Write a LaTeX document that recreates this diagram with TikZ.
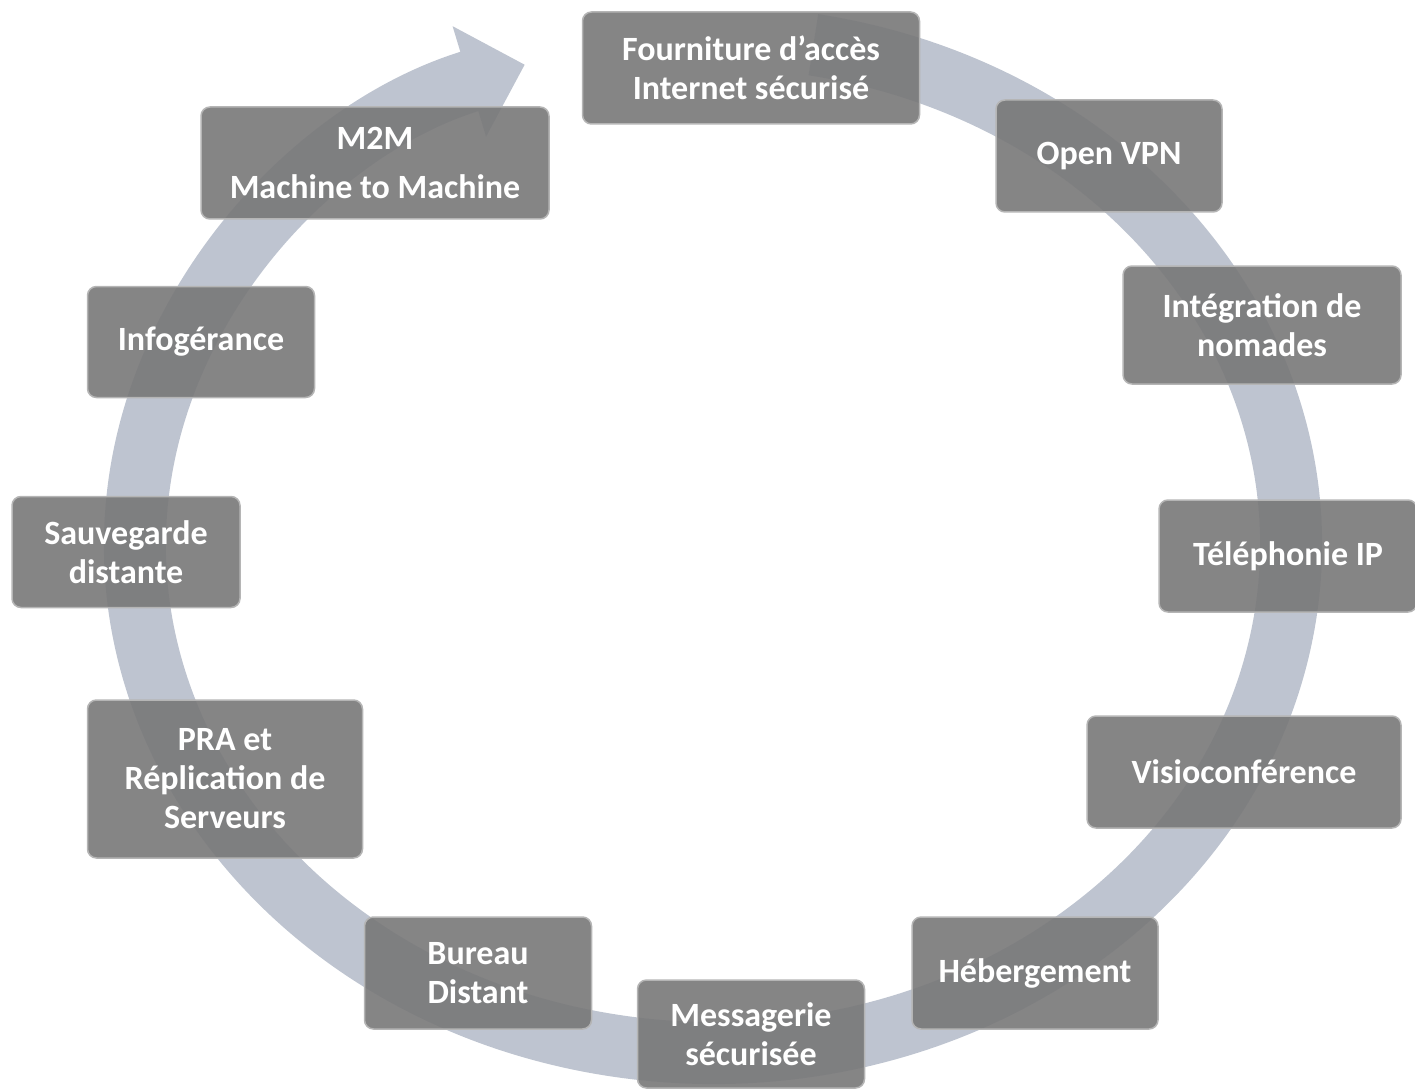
\documentclass[tikz,border=0pt]{standalone}
\usepackage{fontspec}
\setmainfont{Carlito}
\usetikzlibrary{arrows.meta}
\definecolor{bandgray}{RGB}{190,196,208}
\definecolor{boxgray}{RGB}{120,120,120}
\begin{document}
\begin{tikzpicture}[x=1pt, y=1pt,
    service/.style={draw=boxgray!55!white, line width=1.5pt, fill=boxgray, fill opacity=0.9,
        text opacity=1, text=white, rounded corners=9pt, align=center, inner sep=4pt,
        minimum height=112pt, font=\bfseries\fontsize{34}{39}\selectfont}]
    \useasboundingbox (0,-1091) rectangle (1415,0);

    % Circular arrow
    \coordinate (centre) at (713,-545);
    \draw[bandgray, line width=62pt, -{Triangle[length=58pt, width=112pt]}]
        (centre) ++(80:578 and 508) arc[start angle=80, end angle=-251, x radius=578, y radius=508];

    % Services, clockwise from the top
    \node[service, minimum width=337pt] (access) at (751,-68) {Fourniture d’accès\\Internet sécurisé};
    \node[service, minimum width=226pt] (vpn) at (1109,-156) {Open VPN};
    \node[service, minimum width=278pt, minimum height=118pt] (nomad) at (1262,-325) {Intégration de\\nomades};
    \node[service, minimum width=258pt] (ip) at (1288,-556) {Téléphonie IP};
    \node[service, minimum width=314pt] (visio) at (1244,-772) {Visioconférence};
    \node[service, minimum width=246pt] (host) at (1035,-973) {Hébergement};
    \node[service, minimum width=227pt, minimum height=108pt] (mail) at (751,-1034) {Messagerie\\sécurisée};
    \node[service, minimum width=227pt] (desk) at (478,-973) {Bureau\\Distant};
    \node[service, minimum width=275pt, minimum height=158pt] (pra) at (225,-779) {PRA et\\Réplication de\\Serveurs};
    \node[service, minimum width=228pt, minimum height=111pt] (backup) at (126,-552) {Sauvegarde\\distante};
    \node[service, minimum width=227pt, minimum height=111pt] (infog) at (201,-342) {Infogérance};
    \node[service, minimum width=348pt] (m2m) at (375,-163) {M2M\\[0.3em]Machine to Machine};
\end{tikzpicture}
\end{document}
